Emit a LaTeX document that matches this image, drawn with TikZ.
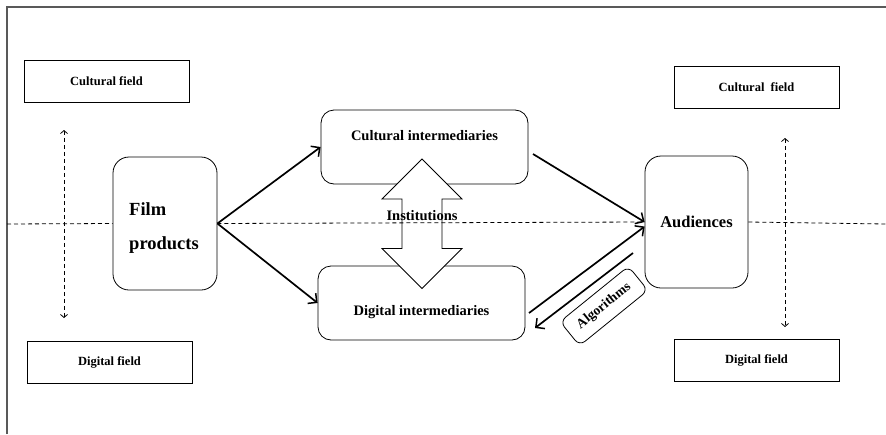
\documentclass[tikz,border=0pt]{standalone}
\usepackage{fontspec}
\setmainfont{Liberation Serif}
\usetikzlibrary{arrows.meta,positioning,calc}

\begin{document}
\begin{tikzpicture}[x=1pt,y=-1pt,
        fieldbox/.style={draw,line width=0.8pt,minimum width=165pt,minimum height=42pt,font=\fontsize{12.5}{14}\selectfont\bfseries},
        roundbox/.style={draw,line width=0.8pt,fill=white,rounded corners=13pt,font=\fontsize{14.5}{16}\selectfont\bfseries},
        flow/.style={-{Straight Barb[length=6.5pt,width=13pt,line width=1.5pt]},line width=1.7pt},
        axis/.style={dashed,line width=0.8pt,dash pattern=on 4pt off 3pt},
        axistip/.style={{Straight Barb[length=3pt,width=7pt]}-{Straight Barb[length=3pt,width=7pt]}}]
                \useasboundingbox (0,0) rectangle (886,434);
                \draw[black!65,line width=1.2pt] (7,434) -- (7,7) -- (886,7);
                % field boxes
                \node[fieldbox] (culfieldL) at (106.5,81.5) {Cultural field};
                \node[fieldbox] (digfieldL) at (109.5,362.5) {Digital field};
                \node[fieldbox] (culfieldR) at (756.5,87.5) {Cultural\ \ field};
                \node[fieldbox] (digfieldR) at (756.5,360) {Digital field};
                % main boxes
                \node[roundbox,minimum width=104pt,minimum height=133pt,rounded corners=16pt] (film) at (165,223.5) {};
                \node[align=left,font=\fontsize{18.5}{20}\selectfont\bfseries] (filmtext) at (164,228) {Film\\[14pt]products};
                \node[roundbox,minimum width=207pt,minimum height=74pt,
                      label={[font=\fontsize{14.5}{16}\selectfont\bfseries,yshift=11pt]center:Cultural intermediaries}] (cult) at (424.5,147) {};
                \node[roundbox,minimum width=207pt,minimum height=74pt,
                      label={[font=\fontsize{14.5}{16}\selectfont\bfseries,yshift=-9pt]center:Digital intermediaries}] (dig) at (421.5,303) {};
                \node[roundbox,minimum width=103pt,minimum height=132pt,rounded corners=16pt,
                      font=\fontsize{16.5}{18}\selectfont\bfseries] (aud) at (696.5,222) {Audiences};
                % institutions
                \coordinate (inst) at (422,159);
                \draw[line width=0.8pt,fill=white] (inst) -- ++(40,40) -- ++(-20,0) -- ++(0,49.5) -- ++(20,0)
                      -- ++(-40,40) -- ++(-40,-40) -- ++(20,0) -- ++(0,-49.5) -- ++(-20,0) -- cycle;
                % dashed axes
                \draw[axis] (7,224) -- (film.west);
                \draw[axis] (film.east) -- (aud.west);
                \draw[axis] (aud.east) -- (886,224);
                \coordinate (ltop) at (64,130);
                \coordinate (lbot) at (64,318);
                \coordinate (rtop) at (785,138);
                \coordinate (rbot) at (785,327);
                \draw[axis,axistip] (ltop) -- (lbot);
                \draw[axis,axistip] (rtop) -- (rbot);
                \node[font=\fontsize{14.5}{16}\selectfont\bfseries] (instlabel) at (422,216) {Institutions};
                % flows
                \coordinate (cultout) at (533,154);
                \coordinate (digout) at (529,313);
                \coordinate (audout) at (633,253);
                \coordinate (digin) at (535,328);
                \draw[flow] (film.east) -- (cult.west);
                \draw[flow] (film.east) -- (dig.west);
                \draw[flow] (cultout) -- (aud.west);
                \draw[flow] (digout) -- (aud.185);
                \draw[flow] (audout) -- (digin);
                \node[roundbox,rotate=39,minimum width=88pt,minimum height=31pt,rounded corners=7pt,
                      font=\fontsize{13.5}{15}\selectfont\bfseries] (algo) at (604,306) {Algorithms};
\end{tikzpicture}
\end{document}
